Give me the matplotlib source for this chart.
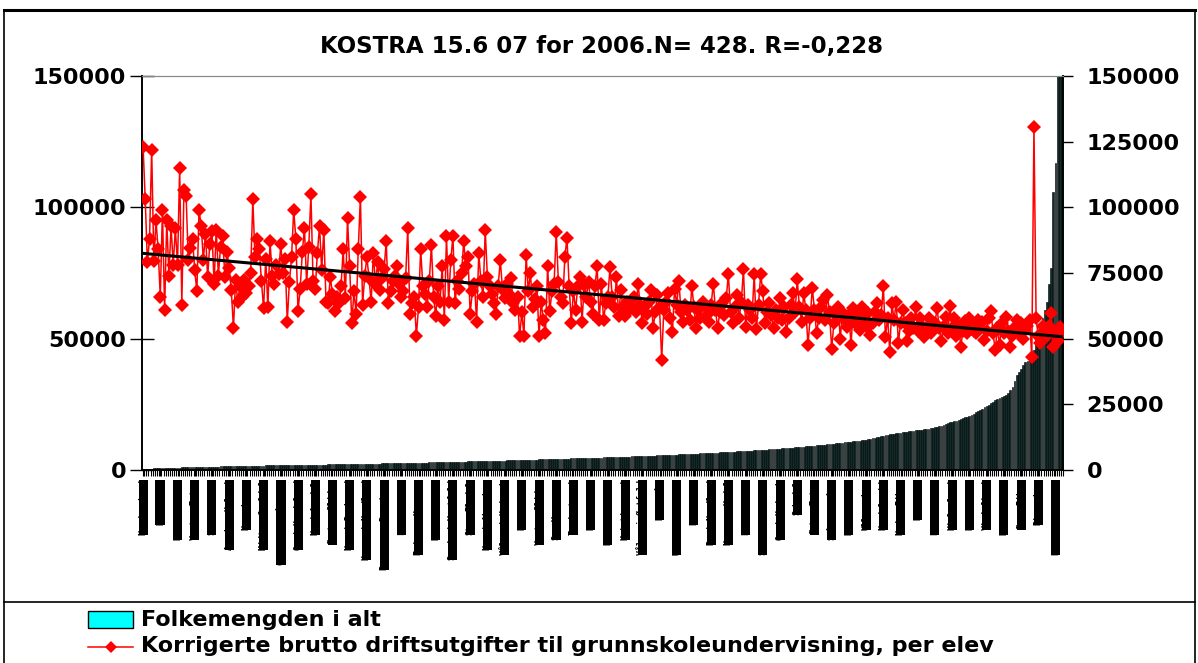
"""KOSTRA 15.6 07 for 2006: population (bars) vs school expenditure per pupil (line)."""
import numpy as np
import matplotlib
matplotlib.use("Agg")
import matplotlib.pyplot as plt
from matplotlib.patches import Rectangle
from matplotlib.lines import Line2D

plt.rcParams["font.family"] = ["DejaVu Sans"]
plt.rcParams["font.weight"] = "bold"

title = "KOSTRA 15.6 07 for 2006.N= 428. R=-0,228"
bar_label = "Folkemengden i alt"
line_label = "Korrigerte brutto driftsutgifter til grunnskoleundervisning, per elev"

# folkemengden, sortert stigende (428 kommuner)
folkemengde = [
    220, 370, 450, 520, 560, 600, 640, 680, 700, 730,
    760, 790, 820, 850, 880, 900, 930, 950, 980, 1000,
    1020, 1050, 1070, 1090, 1110, 1130, 1150, 1170, 1190, 1210,
    1230, 1250, 1270, 1290, 1310, 1330, 1350, 1370, 1390, 1410,
    1430, 1450, 1470, 1490, 1510, 1530, 1550, 1580, 1600, 1610,
    1620, 1640, 1650, 1670, 1680, 1700, 1710, 1720, 1740, 1750,
    1770, 1780, 1790, 1800, 1820, 1830, 1840, 1860, 1870, 1880,
    1890, 1900, 1920, 1930, 1940, 1950, 1960, 1980, 1990, 2000,
    2010, 2020, 2040, 2050, 2060, 2080, 2100, 2110, 2130, 2150,
    2160, 2180, 2190, 2210, 2220, 2240, 2250, 2270, 2280, 2300,
    2310, 2330, 2340, 2360, 2370, 2390, 2400, 2420, 2430, 2450,
    2460, 2480, 2490, 2510, 2520, 2540, 2560, 2580, 2600, 2610,
    2630, 2650, 2660, 2680, 2700, 2720, 2730, 2750, 2770, 2790,
    2800, 2820, 2840, 2860, 2880, 2900, 2920, 2940, 2960, 2980,
    3000, 3020, 3040, 3060, 3080, 3100, 3120, 3150, 3180, 3200,
    3230, 3250, 3280, 3300, 3320, 3340, 3360, 3380, 3400, 3420,
    3440, 3460, 3480, 3500, 3520, 3540, 3560, 3580, 3600, 3630,
    3650, 3680, 3700, 3730, 3750, 3780, 3800, 3830, 3860, 3890,
    3910, 3940, 3960, 3990, 4010, 4040, 4060, 4090, 4110, 4140,
    4160, 4190, 4210, 4240, 4260, 4290, 4310, 4340, 4360, 4390,
    4410, 4430, 4460, 4480, 4500, 4520, 4550, 4570, 4600, 4620,
    4650, 4680, 4700, 4730, 4760, 4790, 4820, 4850, 4880, 4910,
    4940, 4970, 5000, 5030, 5060, 5090, 5120, 5150, 5180, 5210,
    5240, 5270, 5300, 5330, 5360, 5390, 5420, 5450, 5490, 5530,
    5560, 5600, 5640, 5680, 5720, 5760, 5800, 5840, 5880, 5920,
    5960, 6000, 6040, 6080, 6120, 6160, 6200, 6240, 6280, 6320,
    6360, 6400, 6440, 6480, 6520, 6560, 6600, 6640, 6680, 6720,
    6760, 6800, 6850, 6900, 6950, 7000, 7050, 7100, 7150, 7200,
    7250, 7300, 7350, 7400, 7450, 7500, 7560, 7620, 7680, 7740,
    7800, 7860, 7920, 7980, 8040, 8100, 8160, 8220, 8280, 8340,
    8400, 8470, 8540, 8610, 8680, 8750, 8820, 8900, 8980, 9060,
    9140, 9220, 9300, 9380, 9460, 9540, 9620, 9700, 9780, 9860,
    9940, 10020, 10100, 10200, 10300, 10400, 10500, 10600, 10700, 10800,
    10900, 11000, 11100, 11200, 11300, 11450, 11600, 11750, 11900, 12100,
    12300, 12500, 12700, 12900, 13100, 13300, 13450, 13550, 13650, 13750,
    13900, 14050, 14200, 14350, 14500, 14650, 14750, 14850, 14950, 15050,
    15150, 15250, 15350, 15450, 15550, 15700, 15900, 16100, 16300, 16500,
    16700, 16900, 17200, 17500, 17800, 18100, 18400, 18600, 18800, 19000,
    19400, 19700, 20000, 20300, 20600, 21000, 21500, 22000, 22500, 23000,
    23400, 23800, 24300, 24800, 25400, 26000, 26600, 27200, 27600, 27900,
    28200, 28600, 29500, 30500, 31700, 34000, 36000, 37500, 38500, 40000,
    41000, 41500, 42000, 44000, 45500, 50000, 51000, 54000, 58000, 61000,
    64000, 71000, 77000, 106000, 117000, 161000, 242000, 538000,
]

# driftsutgifter per elev, same order
utgift_a = [
    123000, 103000, 79000, 88000, 122000, 79500, 95000, 84000, 66000, 99000,
    61000, 95000, 74000, 93000, 78000, 92000, 78000, 115000, 63000, 106500,
    104500, 80000, 84500, 88000, 76000, 68000, 99000, 93000, 80000, 90000,
    73500, 86000, 91000, 71000, 91500, 74000, 85000, 89000, 73500, 83000,
    77000, 68500, 54000, 72500, 64000, 70000, 66000, 72500, 67500, 70000,
    75000, 103000, 81000, 88000, 84000, 72000, 61500, 80500, 62000, 87000,
    74000, 71000, 78000, 74500, 86000, 75000, 80500, 56500, 71500, 81000,
    99000,
]
utgift_b = [
    88000, 60500, 69000, 83000, 92000, 71000, 85000, 105000, 72000,
    69000, 82500, 93000, 76000, 91500, 64000, 63500, 73500, 67000, 60500,
    66000, 63500, 70000, 84000, 65500, 96000, 77500, 56000, 68000, 59500,
    84000, 104000, 63000, 74000, 81000, 73000, 64000, 82500, 71000, 79000,
    68500, 73000, 76500, 87000, 63500, 68000, 72000, 74000, 77500, 71000,
    66000, 68000, 73000, 92000, 59500, 63500, 66000, 51000, 62000, 84000,
    70000, 67000, 62000, 72000, 85500, 66000, 58500, 70000, 64000, 77500,
    57000, 89000,
]
utgift_c = [
    64000, 80000, 89000, 63500, 72000, 69000, 75000, 87000,
    77500, 81000, 59500, 68000, 71000, 56500, 82500, 72000, 66000, 91500,
    73500, 70000, 67000, 63500, 59500, 70000, 80000, 69000, 65500, 71000,
    67000, 73000, 63500, 61000, 66000, 51000, 60000, 51000, 82000, 68000,
    75000, 62000, 65000, 70000, 51000, 64000, 57000, 52000, 77500, 60500,
    68000, 71000, 90500, 71500, 66000, 63500, 81000, 88500, 70000, 56000,
    68000, 61000, 70000, 73500, 56500, 70500, 66000, 71500, 64000, 59500,
    70000, 77500, 57000,
]
utgift_d = [
    70800, 57000, 63500, 66000, 77300, 66000, 62000,
    73500, 58500, 68500, 62000, 58500, 64000, 61000, 62000, 66000, 60000,
    71000, 63000, 56000, 62000, 59500, 64000, 68500, 54000, 60000, 66500,
    62000, 42000, 61000, 64000, 67500, 58000, 52500, 69000, 63000, 72000,
    60000, 56500, 63000, 61000, 57000, 70000, 62000, 54000, 61000, 58000,
    64000, 62500, 59000, 56500, 63000, 71000, 61000, 54000, 60000, 63500,
    59000, 65500, 74500, 60000, 56000, 62000, 66500, 58000, 64000, 76500,
    54500, 63000, 61000, 58000,
]
utgift_e = [
    74800, 53500, 63000, 74500, 68000, 55800,
    60000, 63500, 59000, 54000, 61000, 58000, 65500, 57000, 62000, 52700,
    58000, 62800, 67300, 60000, 72600, 62000, 56400, 67300, 61000, 47600,
    58000, 69200, 61000, 52000, 58000, 62000, 64700, 57000, 66600, 60000,
    46000, 55800, 59000, 62000, 50000, 60300, 57000, 54600, 59000, 47600,
    61600, 56000, 59000, 53300, 62200, 57000, 55000, 59600, 51400, 56000,
    60000, 63400, 57000, 59000, 70100, 50800, 58000, 45000, 63400, 57000,
    64100, 48200, 56000, 61000,
]
utgift_f = [
    55800, 49000, 53000, 57700, 54000, 62000,
    53000, 57700, 55000, 50800, 54000, 57700, 52000, 53700, 56000, 61600,
    54000, 49000, 55000, 58400, 52000, 62400, 54000, 57700, 51000, 55000,
    47000, 53000, 56700, 52000, 57700, 55000, 53000, 52000, 57000, 54000,
    56500, 49600, 53000, 58000, 60700, 52000, 45700, 54000, 47600, 55800,
    52000, 58400, 53000, 47000, 51000, 54400, 57000, 52000, 55800, 50000,
    53300, 55000, 57100, 43000, 130700, 57700, 51000, 48200, 55000, 53700,
    51000, 55000, 59600, 47000, 52000, 49000, 54400, 52500,
]
utgift = utgift_a + utgift_b + utgift_c + utgift_d + utgift_e + utgift_f

# every 8th category gets a (barely readable) name label
kommune_labels = [
    "Nordre Land", "Båtsfjord", "Hattfjelldal", "Vestre Toten", "Søndre Land",
    "Aurskog-Høland", "Namsskogan", "Midtre Gauldal", "Gáivuotna-Kåfjord",
    "Os i Hordaland", "Nord-Aurdal", "Øystre Slidre", "Nes i Buskerud",
    "Herøy i Nordland", "Porsanger-Porsángu", "Lillehammer", "Evje og Hornnes",
    "Kristiansund", "Sande i Vestfold", "Stor-Elvdal", "Nes i Akershus",
    "Våler i Hedmark", "Hammerfest", "Vestre Slidre", "Sør-Varanger",
    "Tvedestrand", "Kvinnherad", "Bø i Telemark", "Kristiansand",
    "Våler i Østfold", "Berlevåg", "Unjárga-Nesseby", "Porsgrunn",
    "Bø i Nordland", "Nore og Uvdal", "Fredrikstad", "Sortland-Suortá",
    "Os i Hedmark", "Sokndal", "Østre Toten", "Snåase-Snåsa", "Holmestrand",
    "Ullensaker", "Namdalseid", "Nedre Eiker", "Rennesøy", "Flekkefjord",
    "Hjelmeland", "Krødsherad", "Vindafjord", "Kongsvinger", "Øvre Eiker",
    "Ringsaker", "Evenes-Evenássi",
]

W, H = 1198, 663


def fx(x):
    return x / W


def fy(y):
    return 1 - y / H


def plot_graph():
    n = len(folkemengde)
    idx = np.arange(n)

    fig = plt.figure(figsize=(W / 100, H / 100), dpi=100)
    ax = fig.add_axes([fx(142), fy(470), fx(1063) - fx(142), fy(76) - fy(470)])
    ax2 = ax.twinx()

    # population bars
    ax.bar(idx, folkemengde, width=0.85, color="#0f2b2b", edgecolor="black",
           linewidth=0.4, zorder=2)

    # expenditure line + trend
    ax2.plot(idx, utgift, color="red", lw=1.1, marker="D", markersize=6.8,
             markeredgewidth=0, zorder=3)
    k, m = np.polyfit(idx, utgift, 1)
    ax2.plot([idx[0], idx[-1]], [m + k * idx[0], m + k * idx[-1]],
             color="black", lw=2.2, zorder=4)

    for a in (ax, ax2):
        a.set_ylim(0, 150000)
        a.set_xlim(-0.5, n - 0.5)
        a.spines["top"].set_color("#888888")
        for s in ("left", "right", "bottom"):
            a.spines[s].set_linewidth(1.2)

    left_ticks = [0, 50000, 100000, 150000]
    ax.set_yticks(left_ticks, labels=[str(v) for v in left_ticks])
    ax.tick_params(axis="y", direction="inout", length=17, width=1, pad=3,
                   labelsize=16)
    right_ticks = list(range(0, 150001, 25000))
    ax2.set_yticks(right_ticks, labels=[str(v) for v in right_ticks])
    ax2.tick_params(axis="y", direction="out", length=7, width=1, pad=10,
                    labelsize=16)

    # x axis: a tick for each kommune, a label every 8th
    label_pos = list(range(0, n, 8))
    ax.set_xticks(label_pos, labels=kommune_labels[:len(label_pos)])
    ax.set_xticks(idx + 0.5, minor=True)
    ax.tick_params(axis="x", which="both", length=4, width=0.8, pad=3)
    for lbl in ax.get_xticklabels():
        lbl.set_rotation(90)
        lbl.set_fontfamily("DejaVu Sans Mono")
        lbl.set_fontsize(6)
        lbl.set_color("black")
        lbl.set_bbox(dict(facecolor="black", edgecolor="none", pad=0))

    fig.text(fx(602), fy(47), title, ha="center", va="center", fontsize=16.5,
             fontweight="bold")

    # outer frame and legend separator
    frame = dict(transform=fig.transFigure, color="black")
    fig.add_artist(Line2D([fx(4), fx(1195)], [fy(10), fy(10)], lw=2.2, **frame))
    fig.add_artist(Line2D([fx(4), fx(4)], [fy(10), 0], lw=1.2, **frame))
    fig.add_artist(Line2D([fx(1195), fx(1195)], [fy(10), 0], lw=1.2, **frame))
    fig.add_artist(Line2D([fx(4), fx(1195)], [fy(602), fy(602)], lw=1.2, **frame))

    # legend
    fig.add_artist(Rectangle((fx(88), fy(628)), fx(133) - fx(88), fy(611) - fy(628),
                             transform=fig.transFigure, facecolor="#00ffff",
                             edgecolor="black", lw=1))
    fig.text(fx(141), fy(620), bar_label, ha="left", va="center", fontsize=16,
             fontweight="bold")
    fig.add_artist(Line2D([fx(88), fx(110.5), fx(133)], [fy(647)] * 3,
                          transform=fig.transFigure, color="red", lw=1.1,
                          marker="D", markersize=6.5, markeredgewidth=0,
                          markevery=[1]))
    fig.text(fx(141), fy(646), line_label, ha="left", va="center", fontsize=16,
             fontweight="bold")

    fig.savefig("out.png", dpi=100)


plot_graph()
